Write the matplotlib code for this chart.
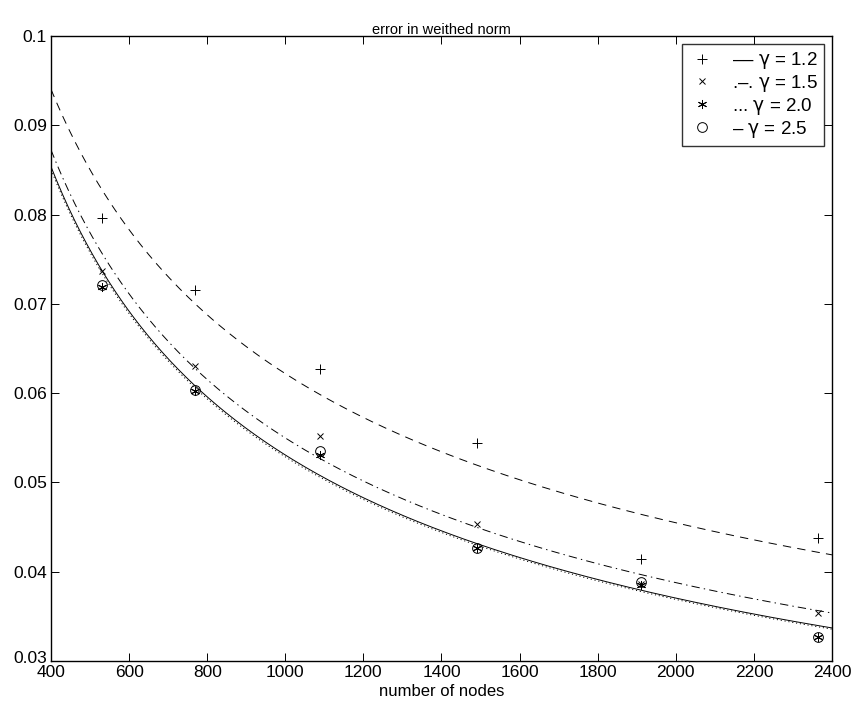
import numpy as np
import matplotlib
matplotlib.use("Agg")
import matplotlib.pyplot as plt
import matplotlib.transforms as mtransforms

plt.rcParams['font.family'] = ['Liberation Sans', 'DejaVu Sans']
plt.rcParams['lines.scale_dashes'] = False
plt.rcParams['mathtext.fontset'] = 'custom'
plt.rcParams['mathtext.rm'] = 'DejaVu Sans'
plt.rcParams['mathtext.it'] = 'DejaVu Sans'

nodes = [530, 770, 1090, 1490, 1910, 2365]
err_g12 = [0.0796, 0.0716, 0.0627, 0.0544, 0.0414, 0.0438]
err_g15 = [0.0737, 0.0630, 0.0552, 0.0454, 0.0386, 0.0354]
err_g20 = [0.0719, 0.0602, 0.0531, 0.0427, 0.0385, 0.0327]
err_g25 = [0.0721, 0.0604, 0.0535, 0.0427, 0.0389, 0.0327]
labels = [r'–– $\mathrm{\gamma}$ = 1.2', r'.–. $\mathrm{\gamma}$ = 1.5',
          r'... $\mathrm{\gamma}$ = 2.0', r'– $\mathrm{\gamma}$ = 2.5']

x_ticks = [400, 600, 800, 1000, 1200, 1400, 1600, 1800, 2000, 2200, 2400]
y_ticks = [0.03, 0.04, 0.05, 0.06, 0.07, 0.08, 0.09, 0.1]
y_ticklabels = ['0.03', '0.04', '0.05', '0.06', '0.07', '0.08', '0.09', '0.1']

fig = plt.figure(figsize=(8.54, 7.07), dpi=100)
ax = fig.add_axes([51/854, 1-661/707, 781/854, 625/707])

series = [err_g12, err_g15, err_g20, err_g25]
markers = ['+', 'x', (6, 2, 0), 'o']
msizes = [7, 5, 6.5, 7]
line_styles = [(0, (6, 4.5)), (0, (6, 3, 1, 3)), (0, (0.8, 2)), '-']

xs = np.linspace(400, 2400, 400)
lx = np.log(np.array(nodes, dtype=float))
handles = []
for vals, m, ms, ls, lab in zip(series, markers, msizes, line_styles, labels):
    # least-squares power-law fit of the plotted points (log-log)
    k, b = np.polyfit(lx, np.log(vals), 1)
    ax.plot(xs, np.exp(b) * xs ** k, color='black', lw=0.7, linestyle=ls)
    h, = ax.plot(nodes, vals, linestyle='none', marker=m, ms=ms,
                 mec='black', mfc='none', mew=0.7, color='black', label=lab)
    handles.append(h)

ax.set_xlim(400, 2400)
ax.set_ylim(0.03, 0.1)
ax.set_xticks(x_ticks)
ax.set_yticks(y_ticks)
ax.set_xticklabels([str(t) for t in x_ticks])
ax.set_yticklabels(y_ticklabels)
ax.tick_params(direction='in', length=6, width=0.7, labelsize=12.5,
               top=True, right=True, pad=3)
for s in ax.spines.values():
    s.set_linewidth(1.0)

# lift the lowest y label a little so it sits above the x labels (as in MATLAB)
lowest = ax.get_yticklabels()[0]
lowest.set_transform(lowest.get_transform() +
                     mtransforms.ScaledTranslation(0, 4/100, fig.dpi_scale_trans))

ax.set_title('error in weithed norm', fontsize=10.5, pad=1.5)
ax.set_xlabel('number of nodes', fontsize=12, labelpad=3)

leg = ax.legend(handles=handles, loc='upper right', fontsize=13.5,
                frameon=True, fancybox=False, edgecolor='black',
                handlelength=1.4, handletextpad=0.9, borderpad=0.35,
                labelspacing=0.1, borderaxespad=0.4)
leg.get_frame().set_linewidth(1.0)

fig.savefig('out.png', dpi=100)
